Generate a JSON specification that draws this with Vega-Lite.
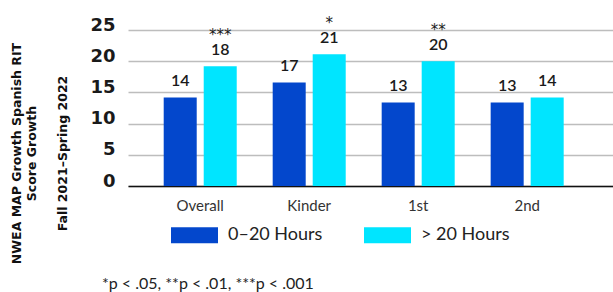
{
  "$schema": "https://vega.github.io/schema/vega-lite/v6.json",
  "width": 485,
  "height": 156,
  "autosize": {"type": "none"},
  "padding": {"left": 128, "top": 30, "right": 0, "bottom": 106},
  "background": "white",
  "config": {"view": {"stroke": null}, "font": "Lato"},
  "title": {
    "text": "*p < .05, **p < .01, ***p < .001",
    "orient": "bottom",
    "anchor": "start",
    "frame": "group",
    "font": "Lato",
    "fontSize": 16,
    "fontWeight": "normal",
    "color": "#222222",
    "dx": -26,
    "offset": 12
  },
  "data": {
    "values": [
      {"grade": "Overall", "group": "0–20 Hours", "value": 14.2, "label": "14", "stars": ""},
      {"grade": "Overall", "group": "> 20 Hours", "value": 19.2, "label": "18", "stars": "***"},
      {"grade": "Kinder", "group": "0–20 Hours", "value": 16.6, "label": "17", "stars": ""},
      {"grade": "Kinder", "group": "> 20 Hours", "value": 21.1, "label": "21", "stars": "*"},
      {"grade": "1st", "group": "0–20 Hours", "value": 13.4, "label": "13", "stars": ""},
      {"grade": "1st", "group": "> 20 Hours", "value": 20.0, "label": "20", "stars": "**"},
      {"grade": "2nd", "group": "0–20 Hours", "value": 13.4, "label": "13", "stars": ""},
      {"grade": "2nd", "group": "> 20 Hours", "value": 14.2, "label": "14", "stars": ""}
    ]
  },
  "encoding": {
    "x": {
      "field": "grade",
      "type": "nominal",
      "sort": null,
      "scale": {"paddingInner": 0.33, "paddingOuter": 0.39, "align": 0.42},
      "axis": {
        "title": null,
        "labelAngle": 0,
        "ticks": false,
        "domain": true,
        "domainColor": "#111111",
        "domainWidth": 1.5,
        "labelFont": "Lato",
        "labelFontSize": 15,
        "labelColor": "#333333",
        "labelPadding": 12
      }
    },
    "xOffset": {
      "field": "group",
      "type": "nominal",
      "scale": {"domain": ["0–20 Hours", "> 20 Hours"], "paddingInner": 0.175, "paddingOuter": 0}
    },
    "y": {
      "field": "value",
      "type": "quantitative",
      "scale": {"domain": [0, 25], "nice": false},
      "axis": {
        "values": [0, 5, 10, 15, 20, 25],
        "domain": false,
        "ticks": false,
        "grid": true,
        "gridColor": "#bdbdbd",
        "gridWidth": 1.5,
        "labelFont": "DejaVu Sans",
        "labelFontSize": 18,
        "labelFontWeight": "bold",
        "labelColor": "#1a1a1a",
        "labelPadding": 13,
        "labelBaseline": "alphabetic",
        "title": ["NWEA MAP Growth Spanish RIT", "Score Growth", "\u200b", "Fall 2021–Spring 2022"],
        "titleFont": "DejaVu Sans",
        "titleFontSize": 12.5,
        "titleFontWeight": "bold",
        "titleColor": "#111111",
        "titleLineHeight": 15.5,
        "titleAngle": -90,
        "titleAlign": "center",
        "titleBaseline": "top",
        "titleX": -118,
        "titleY": 123
      }
    }
  },
  "layer": [
    {
      "mark": {"type": "bar"},
      "encoding": {
        "color": {
          "field": "group",
          "type": "nominal",
          "scale": {"domain": ["0–20 Hours", "> 20 Hours"], "range": ["#0347CC", "#00E5FF"]},
          "legend": {
            "title": null,
            "orient": "none",
            "legendX": 43,
            "legendY": 181.5,
            "direction": "horizontal",
            "columns": 2,
            "columnPadding": 41,
            "padding": 0,
            "symbolType": "M-1,-0.34H1V0.34H-1Z",
            "symbolSize": 2209,
            "symbolStrokeWidth": 0,
            "labelOffset": 10,
            "labelFont": "Lato",
            "labelFontSize": 18,
            "labelColor": "#222222"
          }
        }
      }
    },
    {
      "mark": {"type": "text", "baseline": "alphabetic", "dy": -11, "font": "Lato", "fontSize": 16, "fontWeight": 600, "color": "#1a1a1a"},
      "encoding": {"text": {"field": "label"}}
    },
    {
      "mark": {"type": "text", "baseline": "alphabetic", "dy": -26.5, "font": "DejaVu Sans", "fontSize": 15, "fontWeight": "normal", "color": "#1a1a1a"},
      "encoding": {"text": {"field": "stars"}}
    }
  ]
}
